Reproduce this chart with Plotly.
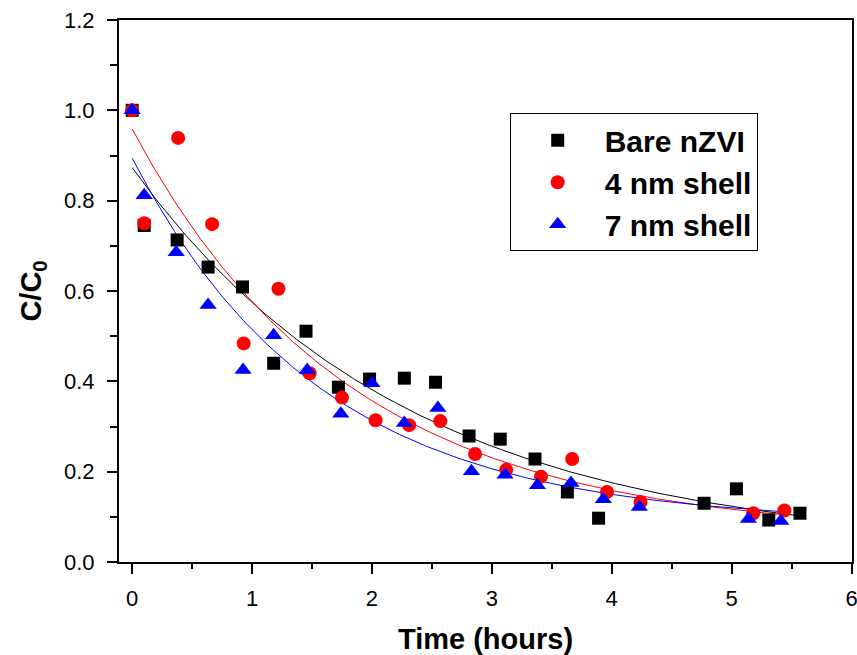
import numpy as np
import plotly.graph_objects as go

# ---- data ----
bare_x = [0, 0.1, 0.375, 0.633, 0.92, 1.18, 1.45, 1.72, 1.98, 2.27, 2.53, 2.81, 3.07, 3.36, 3.63, 3.89, 4.77, 5.04, 5.31, 5.57]
bare_y = [1.0, 0.745, 0.713, 0.653, 0.609, 0.44, 0.511, 0.387, 0.405, 0.407, 0.398, 0.279, 0.272, 0.228, 0.155, 0.097, 0.13, 0.162, 0.093, 0.108]

s4_x = [0, 0.1, 0.383, 0.667, 0.93, 1.22, 1.48, 1.75, 2.03, 2.31, 2.57, 2.86, 3.12, 3.41, 3.67, 3.96, 4.24, 5.18, 5.44]
s4_y = [1.0, 0.75, 0.939, 0.748, 0.484, 0.605, 0.418, 0.364, 0.314, 0.303, 0.312, 0.239, 0.204, 0.189, 0.228, 0.155, 0.133, 0.108, 0.114]

s7_x = [0, 0.1, 0.367, 0.633, 0.925, 1.18, 1.46, 1.74, 2.0, 2.27, 2.55, 2.83, 3.11, 3.38, 3.66, 3.93, 4.23, 5.14, 5.41]
s7_y = [1.0, 0.812, 0.686, 0.569, 0.425, 0.502, 0.425, 0.328, 0.396, 0.308, 0.341, 0.201, 0.193, 0.17, 0.175, 0.139, 0.122, 0.095, 0.091]

names = ["Bare nZVI", "4 nm shell", "7 nm shell"]
x_ticks = [0, 1, 2, 3, 4, 5, 6]
y_ticks = [0.0, 0.2, 0.4, 0.6, 0.8, 1.0, 1.2]


def exp_fit(x, y):
    """Least-squares first-order exponential decay y = y0 + A*exp(-x/t)."""
    x = np.asarray(x, float)
    y = np.asarray(y, float)
    best = None
    for t in np.linspace(0.2, 6, 2000):
        M = np.column_stack([np.ones_like(x), np.exp(-x / t)])
        coef, *_ = np.linalg.lstsq(M, y, rcond=None)
        sse = float(np.sum((M @ coef - y) ** 2))
        if best is None or sse < best[0]:
            best = (sse, coef, t)
    _, (y0, A), t = best
    xf = np.linspace(0, x.max(), 200)
    return xf, y0 + A * np.exp(-xf / t)


series = [
    (bare_x, bare_y, "black", "square", 13),
    (s4_x, s4_y, "#ff0000", "circle", 14),
    (s7_x, s7_y, "#0000ff", "triangle-up", 15),
]

fig = go.Figure()
for (x, y, c, sym, sz), nm in zip(series, names):
    xf, yf = exp_fit(x, y)
    fig.add_trace(go.Scatter(x=xf, y=yf, mode="lines", line=dict(color=c, width=1),
                             showlegend=False, hoverinfo="skip"))
for (x, y, c, sym, sz), nm in zip(series, names):
    fig.add_trace(go.Scatter(x=x, y=y, mode="markers", name=nm,
                             marker=dict(symbol=sym, size=sz, color=c, line=dict(width=0))))

FONT = "Liberation Sans, Arial, sans-serif"
fig.update_layout(
    width=857, height=655,
    margin=dict(l=119, r=5, t=20, b=93),
    paper_bgcolor="white", plot_bgcolor="white",
    font=dict(family=FONT, color="black", size=22),
    legend=dict(
        x=0.533, y=0.828, xanchor="left", yanchor="top",
        bordercolor="black", borderwidth=1, bgcolor="white",
        font=dict(family=FONT, size=30, weight="bold", color="black"),
        itemwidth=84, tracegroupgap=0,
    ),
    xaxis=dict(
        range=[-0.11, 6.004], tickvals=x_ticks, ticktext=[str(v) for v in x_ticks],
        automargin=False, ticklabeloverflow="allow",
        showgrid=False, zeroline=False, showline=True, linecolor="black", linewidth=2,
        mirror=True, ticks="outside", ticklen=10, tickwidth=2, tickcolor="black",
        minor=dict(dtick=0.5, ticks="outside", ticklen=5, tickwidth=2, tickcolor="black"),
        tickfont=dict(size=22), ticklabelstandoff=6,
        title=dict(text="Time (hours)", font=dict(size=29, weight="bold"), standoff=18),
    ),
    yaxis=dict(
        range=[0, 1.2], tickvals=y_ticks, tickformat=".1f",
        automargin=False, ticklabeloverflow="allow",
        showgrid=False, zeroline=False, showline=True, linecolor="black", linewidth=2,
        mirror=True, ticks="outside", ticklen=10, tickwidth=2, tickcolor="black",
        minor=dict(dtick=0.1, ticks="outside", ticklen=7, tickwidth=2, tickcolor="black"),
        tickfont=dict(size=22), ticklabelstandoff=8,
        title=dict(text="C/C<sub>0</sub>", font=dict(size=29, weight="bold"), standoff=14),
    ),
)

fig.write_html("out.html")
